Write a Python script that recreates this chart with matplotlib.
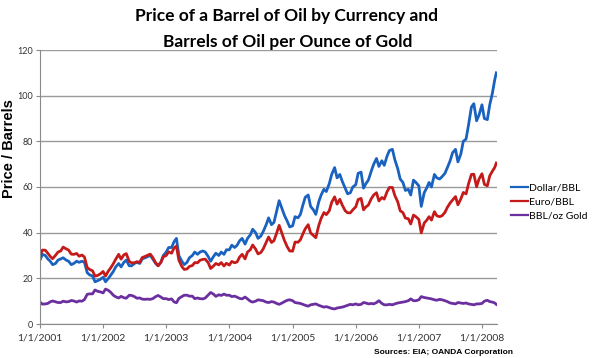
import datetime as dt
import matplotlib
matplotlib.use("Agg")
import matplotlib.pyplot as plt

# semi-monthly readings (1st and 15th of each month), Jan 2001 - Mar 2008
dates = [dt.date(y, m, d) for y in range(2001, 2009) for m in range(1, 13) for d in (1, 15)
         if dt.date(y, m, d) <= dt.date(2008, 3, 15)] + [dt.date(2008, 3, 24)]

dollar_bbl = [
    28.0, 30.5, 30.0, 28.5, 27.5, 26.0, 26.5, 28.0, 28.5, 29.0, 28.0, 27.5,
    26.0, 26.5, 27.5, 27.0, 27.5, 27.0, 22.5, 21.5, 21.0, 18.5, 19.0, 19.5,
    20.5, 18.5, 20.0, 21.5, 23.0, 25.0, 26.5, 25.0, 27.0, 28.0, 25.5, 25.5,
    26.5, 27.0, 26.5, 28.5, 29.0, 29.5, 30.0, 28.5, 26.5, 25.5, 27.0, 30.0,
    31.5, 33.5, 33.5, 36.0, 37.5, 30.0, 27.5, 26.0, 27.0, 29.0, 30.0, 31.5,
    30.5, 31.5, 32.0, 31.5, 29.5, 27.5, 29.5, 31.0, 30.0, 31.5, 30.5, 32.5,
    32.5, 34.5, 33.5, 34.5, 36.5, 37.5, 35.0, 37.5, 39.0, 41.5, 40.0, 37.5,
    38.5, 40.5, 43.5, 46.5, 43.5, 44.5, 49.5, 54.0, 50.5, 47.5, 45.0, 42.5,
    43.0, 47.0, 46.5, 48.0, 52.0, 55.5, 56.5, 51.5, 50.0, 48.0, 53.5, 56.5,
    59.0, 58.0, 61.5, 65.5, 68.5, 64.0, 65.5, 62.5, 59.5, 57.0, 57.5, 60.0,
    61.0, 66.0, 66.5, 59.5, 61.5, 63.0, 67.0, 70.0, 72.5, 69.0, 71.5, 69.5,
    73.5, 76.0, 76.5, 72.0, 68.0, 63.5, 62.0, 58.5, 59.0, 56.5, 63.0, 62.0,
    60.5, 51.5, 57.5, 59.5, 62.0, 60.0, 65.5, 64.0, 63.5, 64.5, 66.0, 68.5,
    71.5, 75.0, 76.5, 71.0, 74.5, 80.0, 81.0, 87.0, 95.0, 96.5, 89.0, 91.5,
    96.0, 90.0, 89.5, 96.0, 101.0, 107.0, 110.0,
]

euro_bbl = [
    29.8, 32.4, 32.3, 31.0, 29.6, 28.6, 30.1, 31.5, 32.0, 33.7, 32.9, 32.4,
    30.6, 30.5, 30.9, 29.7, 30.2, 29.3, 24.7, 23.9, 23.3, 21.0, 21.3, 21.9,
    23.0, 21.0, 23.3, 24.7, 26.4, 28.4, 30.5, 28.4, 30.3, 30.8, 27.4, 26.8,
    26.8, 27.3, 27.0, 29.1, 29.6, 30.1, 30.6, 29.1, 26.8, 25.5, 27.0, 29.4,
    30.0, 31.6, 31.0, 33.3, 34.1, 28.0, 25.2, 23.9, 24.1, 25.2, 25.6, 26.9,
    26.8, 27.9, 28.3, 28.4, 26.8, 24.3, 25.4, 26.5, 25.9, 26.9, 25.4, 26.6,
    25.8, 27.4, 26.8, 27.2, 29.4, 30.5, 28.5, 31.5, 32.5, 34.6, 32.8, 30.7,
    31.3, 32.9, 35.7, 38.1, 35.7, 36.5, 39.9, 43.2, 39.5, 36.5, 33.8, 32.0,
    31.9, 35.9, 35.8, 36.9, 39.4, 41.7, 43.5, 39.9, 38.8, 37.8, 43.1, 46.3,
    48.8, 47.9, 49.6, 53.3, 55.7, 52.5, 54.6, 52.1, 49.6, 48.7, 48.7, 50.0,
    51.3, 54.5, 55.0, 50.0, 51.3, 52.1, 54.9, 56.5, 57.5, 53.9, 55.4, 54.7,
    57.9, 59.8, 59.8, 56.3, 53.5, 49.6, 48.8, 46.4, 46.1, 43.8, 47.7, 47.0,
    45.8, 39.9, 44.2, 45.4, 47.0, 45.5, 49.2, 47.4, 47.0, 47.4, 48.9, 51.1,
    53.0, 54.3, 55.8, 52.2, 54.8, 57.6, 57.0, 61.3, 65.5, 65.6, 60.1, 63.5,
    65.8, 61.2, 60.5, 64.9, 66.9, 68.6, 70.5,
]

bbl_oz_gold = [
    9.6, 8.7, 8.8, 9.0, 9.7, 10.1, 9.7, 9.4, 9.4, 10.0, 9.7, 9.8,
    10.3, 10.1, 9.6, 10.1, 10.0, 10.7, 13.0, 13.2, 13.2, 14.9, 14.3, 14.1,
    13.6, 15.3, 14.7, 13.8, 12.6, 11.9, 11.4, 12.1, 11.5, 11.3, 12.6, 12.5,
    12.0, 11.3, 11.4, 10.9, 10.8, 10.9, 10.8, 11.1, 12.0, 12.5, 11.8, 11.1,
    11.1, 10.7, 11.0, 9.7, 9.3, 11.2, 12.0, 12.6, 12.6, 12.2, 12.2, 11.1,
    11.4, 11.1, 11.0, 11.4, 12.7, 13.8, 13.1, 12.1, 12.8, 12.5, 13.1, 12.6,
    12.6, 12.0, 12.2, 11.7, 11.2, 11.0, 11.8, 11.0, 10.0, 9.6, 10.0, 10.6,
    10.4, 10.2, 9.6, 9.4, 9.8, 9.6, 9.0, 8.6, 9.2, 9.8, 10.4, 10.6,
    10.2, 9.4, 9.2, 9.0, 8.6, 8.2, 7.8, 8.4, 8.6, 8.8, 8.2, 7.8,
    7.4, 7.6, 7.2, 6.8, 6.6, 7.0, 7.2, 7.4, 7.8, 8.2, 8.6, 8.4,
    8.8, 8.4, 8.6, 9.4, 9.2, 8.8, 9.0, 8.8, 9.4, 10.2, 9.0, 8.4,
    8.4, 8.6, 8.4, 8.8, 9.2, 9.4, 9.6, 9.8, 10.2, 11.0, 10.2, 10.2,
    10.6, 12.0, 11.6, 11.4, 11.2, 11.0, 10.6, 10.4, 10.8, 10.6, 10.2, 9.8,
    9.2, 9.0, 8.8, 9.4, 9.2, 9.0, 9.2, 8.8, 8.6, 8.4, 8.8, 8.8,
    9.0, 10.0, 10.4, 9.8, 9.6, 9.2, 8.6,
]

years = list(range(2001, 2009))
tick_labels = ["1/1/%d" % y for y in years]

fig = plt.figure(figsize=(6.0, 3.58), dpi=100)
ax = fig.add_axes([40 / 600, 1 - 324 / 358, 457 / 600, 274 / 358])

ax.plot(dates, dollar_bbl, color="#1a62c0", lw=2.0, label="Dollar/BBL")
ax.plot(dates, euro_bbl, color="#c41a1a", lw=2.0, label="Euro/BBL")
ax.plot(dates, bbl_oz_gold, color="#6b2fa0", lw=2.0, label="BBL/oz Gold")

ax.set_ylim(0, 120)
ax.set_yticks(range(0, 121, 20))
ax.set_xlim(dt.date(2001, 1, 1), dt.date(2008, 3, 28))
ax.set_xticks([dt.date(y, 1, 1) for y in years])
ax.set_xticklabels(tick_labels)

ax.grid(axis="y", color="#9a9a9a", lw=1)
ax.set_axisbelow(True)
for s in ("top", "right"):
    ax.spines[s].set_visible(False)
for s in ("left", "bottom"):
    ax.spines[s].set_color("#8a8a8a")
ax.tick_params(colors="#8a8a8a", length=3, labelcolor="#333333", labelsize=7.5)
ax.tick_params(axis="y", labelsize=6.5, pad=2)
for lab in ax.get_xticklabels() + ax.get_yticklabels():
    lab.set_family("Lato")

ax.set_ylabel("Price / Barrels", family="Liberation Sans", fontweight="bold", fontsize=10.5)
ax.yaxis.set_label_coords(-0.052, 0.64)

fig.text(0.478, 0.955, "Price of a Barrel of Oil by Currency and", ha="center", va="center",
         family="Lato", fontweight="bold", fontsize=12.5)
fig.text(0.48, 0.883, "Barrels of Oil per Ounce of Gold", ha="center", va="center",
         family="Lato", fontweight="bold", fontsize=12.5)

leg = ax.legend(loc="center left", bbox_to_anchor=(1.022, 0.447), frameon=False,
                prop={"family": "Lato", "size": 7.5}, handlelength=1.6,
                handletextpad=0.15, labelspacing=0.45, borderaxespad=0)
for line in leg.get_lines():
    line.set_linewidth(1.6)

fig.text(513 / 600, 1 - 352 / 358, "Sources: EIA; OANDA Corporation", ha="right", va="center",
         family="Liberation Sans", fontweight="bold", fontsize=6)

fig.savefig("out.png", dpi=100)
